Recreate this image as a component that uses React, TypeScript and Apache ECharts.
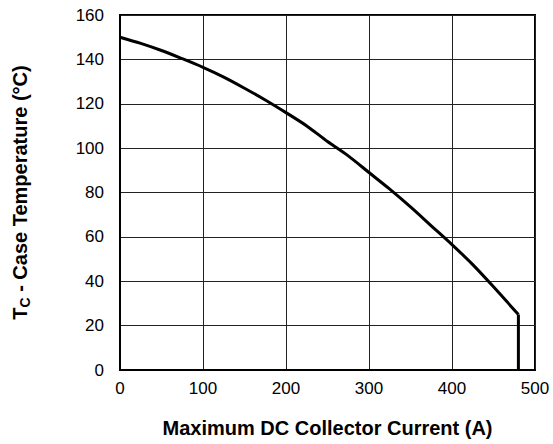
import React, { useEffect, useRef } from "react";
import * as echarts from "echarts";

const currentA = [0, 25, 50, 75, 100, 125, 150, 175, 200, 225, 250, 275, 300, 325, 350, 375, 400, 425, 450, 480];
const caseTempC = [150, 147.2, 144, 140.3, 136.4, 132, 127, 121.7, 116, 110, 103, 96.5, 89, 81.5, 73.5, 65, 56.5, 47.5, 37.5, 25];
const limitCurrentA = [480, 480];
const limitTempC = [25, 0];
const xTicks = [0, 100, 200, 300, 400, 500];
const yTicks = [0, 20, 40, 60, 80, 100, 120, 140, 160];

export default function App() {
  const ref = useRef<HTMLDivElement>(null);
  useEffect(() => {
    document.body.style.margin = "0";
    const chart = echarts.init(ref.current!, null, { renderer: "svg" });
    const font = "'Liberation Sans', Arial, Helvetica, sans-serif";
    chart.setOption({
      animation: false,
      backgroundColor: "#fff",
      grid: { left: 120, top: 15, right: 18, bottom: 74, show: true, borderColor: "#000", borderWidth: 2 },
      xAxis: {
        type: "value",
        min: xTicks[0],
        max: xTicks[xTicks.length - 1],
        interval: 100,
        name: "Maximum DC Collector Current (A)",
        nameLocation: "middle",
        nameGap: 48,
        nameTextStyle: { fontFamily: font, fontWeight: "bold", fontSize: 20, color: "#000" },
        axisLine: { show: true, lineStyle: { color: "#000", width: 2 } },
        axisTick: { show: false },
        axisLabel: { color: "#000", fontFamily: font, fontSize: 17, margin: 10 },
        splitLine: { show: true, lineStyle: { color: "#222", width: 1 } },
      },
      yAxis: {
        type: "value",
        min: yTicks[0],
        max: yTicks[yTicks.length - 1],
        interval: 20,
        name: "{a|T}{b|C}{a| - Case Temperature (°C)}",
        nameLocation: "middle",
        nameGap: 88,
        nameTextStyle: {
          fontFamily: font,
          fontWeight: "bold",
          fontSize: 20,
          color: "#000",
          rich: {
            a: { fontFamily: font, fontWeight: "bold", fontSize: 20, color: "#000", lineHeight: 24, verticalAlign: "middle" },
            b: { fontFamily: font, fontWeight: "bold", fontSize: 14, color: "#000", lineHeight: 24, verticalAlign: "bottom", padding: [10, 0, 0, 0] },
          },
        },
        axisLine: { show: true, lineStyle: { color: "#000", width: 2 } },
        axisTick: { show: false },
        axisLabel: { color: "#000", fontFamily: font, fontSize: 17, margin: 16 },
        splitLine: { show: true, lineStyle: { color: "#222", width: 1 } },
      },
      series: [
        {
          type: "line",
          data: currentA.map((x, i) => [x, caseTempC[i]]),
          showSymbol: false,
          smooth: 0.3,
          lineStyle: { color: "#000", width: 3 },
        },
        {
          type: "line",
          data: limitCurrentA.map((x, i) => [x, limitTempC[i]]),
          showSymbol: false,
          lineStyle: { color: "#000", width: 3 },
        },
      ],
    });
    return () => chart.dispose();
  }, []);
  return <div ref={ref} style={{ width: 553, height: 444 }} />;
}
